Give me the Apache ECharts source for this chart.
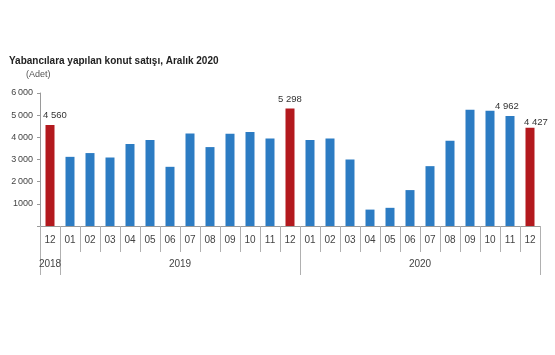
<!DOCTYPE html>
<html>
<head>
<meta charset="utf-8">
<script src="https://cdn.jsdelivr.net/npm/echarts@6/dist/echarts.min.js"></script>
<style>
html,body{margin:0;padding:0;background:#fff;}
#chart{width:555px;height:355px;}
</style>
</head>
<body>
<div id="chart"></div>
<script>
var months = ['12','01','02','03','04','05','06','07','08','09','10','11','12','01','02','03','04','05','06','07','08','09','10','11','12'];
var values = [4560,3120,3290,3090,3700,3880,2670,4170,3560,4160,4240,3950,5298,3880,3950,3000,740,820,1620,2700,3850,5240,5200,4962,4427];
var highlighted = [0,12,24];
var labelled = [0,12,23,24];
var yearLabels = ['2018','2019','2020'];
var yearStart = [0,1,13];
var yearLabelAt = [0,6,18];
var yTicks = [0,1000,2000,3000,4000,5000,6000];

var BLUE = '#2C7CC3', RED = '#B3191E';
var FONT = '"Liberation Sans", Arial, sans-serif';

function fmt(v){
  var s = String(v);
  if (v === 1000) return s;
  return s.replace(/\B(?=(\d{3})+(?!\d))/g, '\u2009');
}
function fmtLabel(v){
  return String(v).replace(/\B(?=(\d{3})+(?!\d))/g, ' ');
}

var labelOffsets = {0:[5,0], 12:[0,1], 23:[-3,0], 24:[6,5]};
var barData = values.map(function(v,i){
  var d = {value:v};
  if (highlighted.indexOf(i) >= 0) d.itemStyle = {color:RED};
  if (labelled.indexOf(i) >= 0) d.label = {show:true, position:'top', offset:labelOffsets[i] || [0,0]};
  return d;
});

var yearData = months.map(function(m,i){
  var k = yearLabelAt.indexOf(i);
  if (k < 0) return '';
  if (k === 0) return yearLabels[k];
  return {value:yearLabels[k], textStyle:{padding:[0,0,0,20]}};
});

var chart = echarts.init(document.getElementById('chart'), null, {renderer:'canvas'});
chart.setOption({
  animation:false,
  textStyle:{fontFamily:FONT},
  title:[
    {text:'Yabancılara yapılan konut satışı, Aralık 2020', left:9, top:56, padding:0,
     textStyle:{fontSize:10, fontWeight:'bold', color:'#222', fontFamily:FONT}},
    {text:'(Adet)', left:26, top:70, padding:0,
     textStyle:{fontSize:9, fontWeight:'normal', color:'#555', fontFamily:FONT}}
  ],
  grid:{left:40, right:15, top:93, bottom:129, containLabel:false},
  xAxis:[
    {type:'category', data:months, position:'bottom',
     axisLine:{show:true, lineStyle:{color:'#9a9a9a', width:1}},
     axisTick:{show:true, interval:0, length:26, lineStyle:{color:'#b0b0b0'}},
     axisLabel:{interval:0, margin:9, fontSize:10, color:'#444', fontFamily:FONT}},
    {type:'category', data:yearData, position:'bottom',
     axisLine:{show:false},
     axisTick:{show:true, length:49, lineStyle:{color:'#b0b0b0'},
       interval:function(i){ return yearStart.indexOf(i) >= 0; }},
     axisLabel:{interval:0, margin:33, fontSize:10, color:'#444', fontFamily:FONT}}
  ],
  yAxis:{type:'value', min:yTicks[0], max:yTicks[yTicks.length-1], interval:1000,
    splitLine:{show:false},
    axisLine:{show:true, lineStyle:{color:'#9a9a9a'}},
    axisTick:{show:true, length:3, lineStyle:{color:'#9a9a9a'}},
    axisLabel:{margin:7, fontSize:9, color:'#444', fontFamily:FONT,
      formatter:function(v){ return v === 0 ? '' : fmt(v); }}
  },
  series:[{
    type:'bar', data:barData, barWidth:9, xAxisIndex:0,
    itemStyle:{color:BLUE},
    label:{show:false, fontSize:9.5, color:'#333', fontFamily:FONT,
      formatter:function(p){ return fmtLabel(p.value); }}
  }]
});
</script>
</body>
</html>
